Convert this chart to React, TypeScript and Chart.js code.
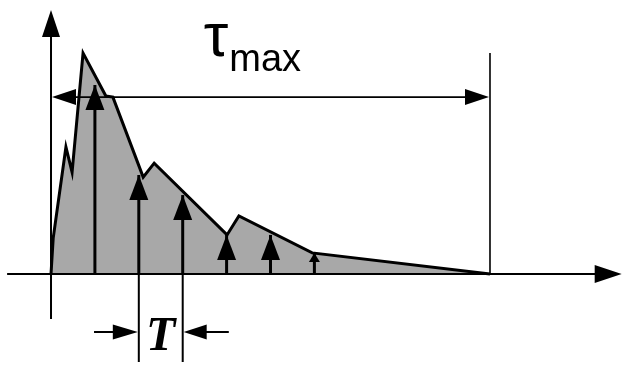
import React, { useEffect, useRef } from "react";
import { Chart, registerables } from "chart.js";

Chart.register(...registerables);

// ---- data (x in units of T, y in relative power units) ----
const profileT = [0, 0.05, 0.34, 0.48, 0.73, 1.25, 1.41, 2.1, 2.35, 4.01, 4.28, 5.95, 10];
const profileP = [0, 13.6, 48.1, 38.6, 83.7, 67.4, 67.0, 36.7, 42.0, 14.8, 22.0, 8.0, 0];
const tapT = [1, 2, 3, 4, 5, 6];
const tapP = [71.6, 37.5, 29.9, 14.8, 14.8, 8.0];
const tauMax = 10;
const tauMaxLevel = 67.0;
const tauMaxTop = 83.7;
const xAxisRange = [-1.0, 13.0];
const yAxisRange = [-17.0, 100.0];
const periodStart = 2;
const periodEnd = 3;
const periodLevel = -22.0;
const periodBottom = -33.3;
const periodArrowFrom = [0.98, 4.05];
const labelTau = "τ";
const labelMax = "max";
const labelPeriod = "T";
const tauLabelPos = [3.48, 82.6];
const periodLabelPos = [2.5, -28.8];

const X_MIN = -1.162;
const X_MAX = 13.03;
const Y_MIN = -34.47;
const Y_MAX = 103.79;

const W = 623;
const H = 365;

function head(ctx: CanvasRenderingContext2D, tx: number, ty: number, dx: number, dy: number, len: number, hw: number) {
  const bx = tx - dx * len;
  const by = ty - dy * len;
  const nx = -dy;
  const ny = dx;
  ctx.beginPath();
  ctx.moveTo(tx, ty);
  ctx.lineTo(bx + nx * hw, by + ny * hw);
  ctx.lineTo(bx - nx * hw, by - ny * hw);
  ctx.closePath();
  ctx.fill();
}

const overlay = {
  id: "overlay",
  afterDatasetsDraw(chart: any) {
    const ctx: CanvasRenderingContext2D = chart.ctx;
    const xs = chart.scales.x;
    const ys = chart.scales.y;
    const X = (v: number) => xs.getPixelForValue(v);
    const Y = (v: number) => ys.getPixelForValue(v);
    ctx.save();
    ctx.strokeStyle = "#000";
    ctx.fillStyle = "#000";
    ctx.lineCap = "butt";

    // axes
    ctx.lineWidth = 2;
    ctx.beginPath();
    ctx.moveTo(X(xAxisRange[0]), Y(0));
    ctx.lineTo(X(xAxisRange[1]) - 20, Y(0));
    ctx.moveTo(X(0), Y(yAxisRange[0]));
    ctx.lineTo(X(0), Y(yAxisRange[1]) + 20);
    ctx.stroke();
    head(ctx, X(xAxisRange[1]), Y(0), 1, 0, 27, 9);
    head(ctx, X(0), Y(yAxisRange[1]), 0, -1, 27, 9);

    // tap arrow heads
    tapT.forEach((t, i) => {
      const tipY = Y(tapP[i]);
      const h = Y(0) - tipY;
      const len = Math.min(25, h - 12);
      const hw = len >= 20 ? 9.5 : 5.5;
      head(ctx, X(t), tipY, 0, -1, len, hw);
    });

    // tau max marker
    ctx.lineWidth = 1.6;
    ctx.beginPath();
    ctx.moveTo(X(0) + 10, Y(tauMaxLevel));
    ctx.lineTo(X(tauMax) - 10, Y(tauMaxLevel));
    ctx.moveTo(X(tauMax), Y(0));
    ctx.lineTo(X(tauMax), Y(tauMaxTop));
    ctx.stroke();
    head(ctx, X(0) + 1, Y(tauMaxLevel), -1, 0, 24, 8);
    head(ctx, X(tauMax) - 1, Y(tauMaxLevel), 1, 0, 24, 8);

    // period marker
    ctx.lineWidth = 2;
    ctx.beginPath();
    ctx.moveTo(X(periodStart), Y(0));
    ctx.lineTo(X(periodStart), Y(periodBottom));
    ctx.moveTo(X(periodEnd), Y(0));
    ctx.lineTo(X(periodEnd), Y(periodBottom));
    ctx.moveTo(X(periodArrowFrom[0]), Y(periodLevel));
    ctx.lineTo(X(periodStart) - 10, Y(periodLevel));
    ctx.moveTo(X(periodArrowFrom[1]), Y(periodLevel));
    ctx.lineTo(X(periodEnd) + 10, Y(periodLevel));
    ctx.stroke();
    head(ctx, X(periodStart) - 1, Y(periodLevel), 1, 0, 25, 7.5);
    head(ctx, X(periodEnd) + 1, Y(periodLevel), -1, 0, 23, 7.5);

    // labels
    ctx.textBaseline = "alphabetic";
    ctx.textAlign = "left";
    ctx.font = '62px "Liberation Sans", Arial, sans-serif';
    const tx = X(tauLabelPos[0]);
    const ty = Y(tauLabelPos[1]);
    ctx.fillText(labelTau, tx, ty);
    const tw = ctx.measureText(labelTau).width;
    ctx.font = '38px "Liberation Sans", Arial, sans-serif';
    ctx.fillText(labelMax, tx + tw + 1, ty + 15);

    ctx.textAlign = "center";
    ctx.font = 'italic bold 48px "Liberation Serif", "Times New Roman", serif';
    ctx.fillText(labelPeriod, X(periodLabelPos[0]), Y(periodLabelPos[1]));
    ctx.restore();
  },
};

export default function App() {
  const ref = useRef<HTMLCanvasElement>(null);
  useEffect(() => {
    const profile = profileT.map((t, i) => ({ x: t, y: profileP[i] }));
    const stems = tapT.map((t, i) => ({
      type: "line" as const,
      data: [
        { x: t, y: 0 },
        { x: t, y: tapP[i] },
      ],
      borderColor: "#000",
      borderWidth: 3,
      pointRadius: 0,
      fill: false,
      order: 1,
    }));
    const chart = new Chart(ref.current!, {
      type: "line",
      data: {
        datasets: [
          {
            data: profile,
            borderColor: "#000",
            borderWidth: 3,
            backgroundColor: "#a8a8a8",
            fill: "origin",
            pointRadius: 0,
            tension: 0,
            borderJoinStyle: "miter",
            order: 2,
          } as any,
          ...stems,
        ],
      },
      options: {
        responsive: false,
        animation: false,
        devicePixelRatio: 1,
        layout: { padding: 0 },
        parsing: false as any,
        scales: {
          x: { type: "linear", display: false, min: X_MIN, max: X_MAX },
          y: { type: "linear", display: false, min: Y_MIN, max: Y_MAX },
        },
        plugins: {
          legend: { display: false },
          tooltip: { enabled: false },
        },
        events: [],
      },
      plugins: [overlay],
    });
    return () => chart.destroy();
  }, []);
  return (
    <div style={{ position: "fixed", left: 0, top: 0, width: W, height: H, background: "#fff" }}>
      <canvas ref={ref} width={W} height={H} style={{ width: W, height: H, display: "block" }} />
    </div>
  );
}
